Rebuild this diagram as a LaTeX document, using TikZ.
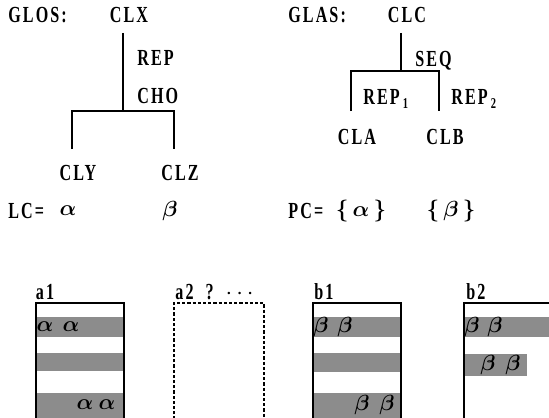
\documentclass[tikz,border=0pt]{standalone}
\usepackage{fontspec}
\usepackage{tikz}
\usetikzlibrary{positioning}
\newfontfamily\jfont[FakeStretch=0.7,LetterSpace=9]{Liberation Serif}
\newcommand{\repsub}[1]{\hspace{1.5pt}\raisebox{-0.3ex}{\fontsize{7.5}{8}\selectfont #1}}

\begin{document}
\begin{tikzpicture}[
        x=0.5pt, y=-0.5pt,
        lbl/.style={font=\jfont\bfseries\fontsize{11.5}{13}\selectfont, inner sep=0pt},
        sym/.style={font=\fontsize{11}{13}\selectfont\boldmath, inner sep=0pt},
        branch/.style={line width=0.7pt},
        frame/.style={line width=0.7pt},
        band/.style={fill=black!45},
      ]
        \useasboundingbox (0,0) rectangle (549,417);
        \clip (0,0) rectangle (549,417);

        % GLOS tree
        \node[lbl, anchor=west] (glos) at (8, 15) {GLOS:};
        \node[lbl] (clx) at (129, 15) {CLX};
        \node[lbl, anchor=west] (rep) at (137, 58) {REP};
        \node[lbl, anchor=west] (cho) at (137, 96) {CHO};
        \node[lbl] (cly) at (78, 173) {CLY};
        \node[lbl] (clz) at (180, 173) {CLZ};
        \coordinate (xsplit) at (123, 111);
        \coordinate (yend) at (72, 149);
        \coordinate (zend) at (174, 149);
        \draw[branch] (xsplit |- 0,33) -- (xsplit);
        \draw[branch] (yend) -- (yend |- xsplit) -- (zend |- xsplit) -- (zend);

        % GLAS tree
        \node[lbl, anchor=west] (glas) at (288, 15) {GLAS:};
        \node[lbl] (clc) at (407, 15) {CLC};
        \node[lbl, anchor=west] (seq) at (415, 61) {SEQ};
        \node[lbl, anchor=west] (repa) at (363, 99) {REP\repsub{1}};
        \node[lbl, anchor=west] (repb) at (451, 99) {REP\repsub{2}};
        \node[lbl] (cla) at (357, 137) {CLA};
        \node[lbl] (clb) at (445, 137) {CLB};
        \coordinate (csplit) at (401, 71);
        \coordinate (aend) at (351, 111);
        \coordinate (bend) at (439, 111);
        \draw[branch] (csplit |- 0,33) -- (csplit);
        \draw[branch] (aend) -- (aend |- csplit) -- (bend |- csplit) -- (bend);

        % LC / PC
        \node[lbl, anchor=west] (lc) at (8, 211) {LC=};
        \node[sym] (lca) at (68, 211) {$\alpha$};
        \node[sym] (lcb) at (170, 211) {$\beta$};
        \node[lbl, anchor=west] (pc) at (288, 211) {PC=};
        \node[sym] (pca) at (361, 211) {$\{\,\alpha\,\}$};
        \node[sym] (pcb) at (451, 211) {$\{\,\beta\,\}$};

        % Box a1
        \node[lbl] (ta1) at (45, 292) {a1};
        \fill[band] (36, 317) rectangle (124, 337);
        \fill[band] (36, 353) rectangle (124, 371);
        \fill[band] (36, 393) rectangle (124, 430);
        \draw[frame] (36, 430) -- (36, 303) -- (124, 303) -- (124, 430);
        \node[sym] (a11) at (45, 327) {$\alpha$};
        \node[sym] (a12) at (71, 327) {$\alpha$};
        \node[sym] (a13) at (85, 405) {$\alpha$};
        \node[sym] (a14) at (107, 405) {$\alpha$};

        % Box a2
        \node[lbl, anchor=west] (ta2) at (175, 292) {a2\hspace{6pt}?\hspace{6pt}$\cdots$};
        \draw[frame, dash pattern=on 1.6pt off 1pt] (174, 430) -- (174, 303) -- (264, 303) -- (264, 430);

        % Box b1
        \node[lbl] (tb1) at (324, 292) {b1};
        \fill[band] (313, 317) rectangle (401, 337);
        \fill[band] (313, 353) rectangle (401, 372);
        \fill[band] (313, 393) rectangle (401, 430);
        \draw[frame] (313, 430) -- (313, 303) -- (401, 303) -- (401, 430);
        \node[sym] (b11) at (321, 327) {$\beta$};
        \node[sym] (b12) at (345, 327) {$\beta$};
        \node[sym] (b13) at (362, 405) {$\beta$};
        \node[sym] (b14) at (387, 405) {$\beta$};

        % Box b2
        \node[lbl] (tb2) at (476, 292) {b2};
        \fill[band] (464, 317) rectangle (560, 337);
        \fill[band] (464, 354) rectangle (527, 376);
        \draw[frame] (464, 430) -- (464, 303) -- (560, 303);
        \node[sym] (b21) at (472, 327) {$\beta$};
        \node[sym] (b22) at (495, 327) {$\beta$};
        \node[sym] (b23) at (488, 365) {$\beta$};
        \node[sym] (b24) at (513, 365) {$\beta$};
      \end{tikzpicture}
\end{document}
